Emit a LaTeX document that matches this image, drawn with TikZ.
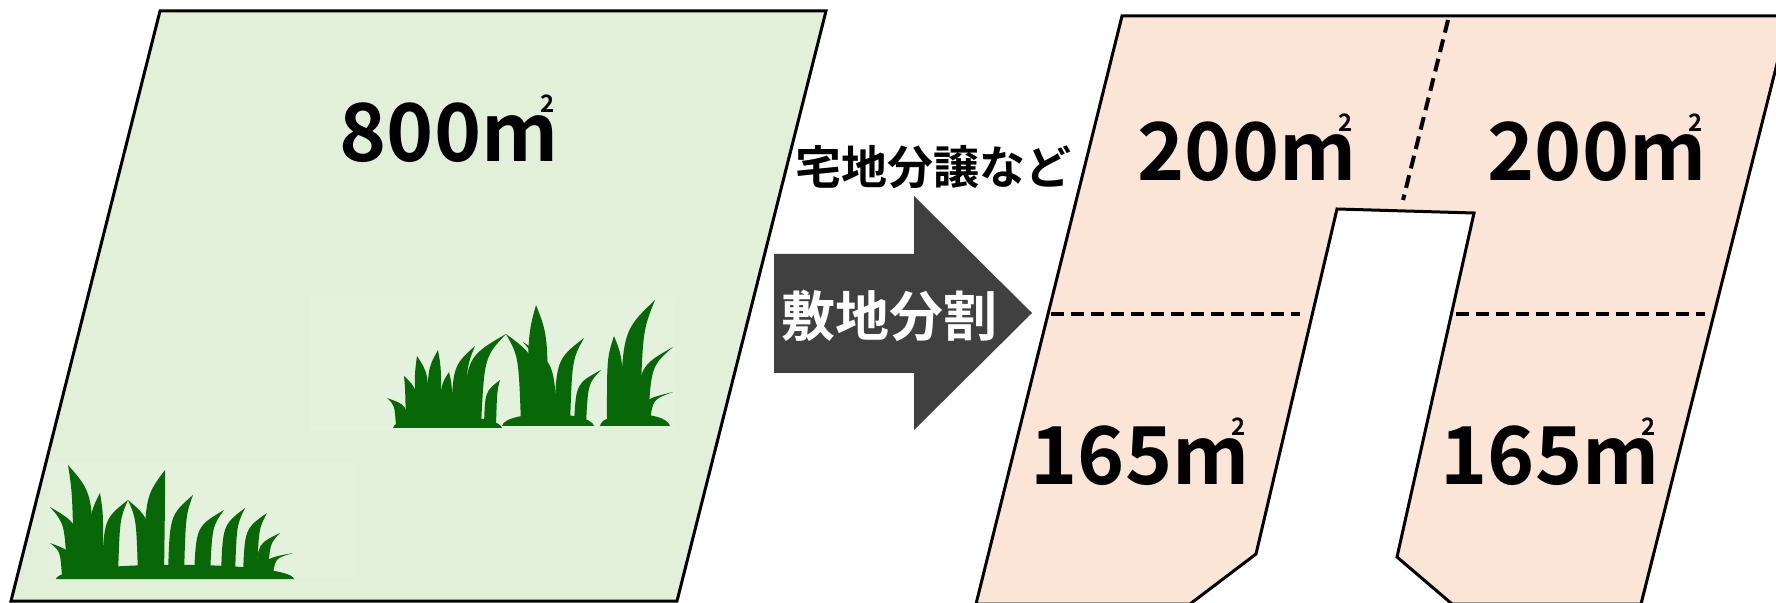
\documentclass[tikz,border=0pt]{standalone}
\usepackage{fontspec}
\setmainfont{Noto Sans CJK JP}[BoldFont={* Bold}]
\usepackage{graphicx}
\definecolor{fieldgreen}{HTML}{E2F0D9}
\definecolor{lotpeach}{HTML}{FBE5D6}
\definecolor{arrowgray}{HTML}{404040}
\definecolor{grassgreen}{RGB}{8,104,8}
\newcommand\sqm{m\llap{\raisebox{.62em}{\fontsize{12}{12}\selectfont 2\kern2pt}}}

\begin{document}
\begin{tikzpicture}[x=0.5pt,y=-0.5pt,area/.style={font=\bfseries\fontsize{40}{40}\selectfont,anchor=base,inner sep=0pt},plot/.style={draw,line width=1.5pt},cut/.style={line width=2pt,dash pattern=on 6.5pt off 3.5pt},grass/.style={fill=grassgreen}]
\useasboundingbox (0,0) rectangle (1776,603);
\draw[plot,fill=fieldgreen] (160,11) -- (826,11) -- (677,601) -- (11,601) -- cycle;
\fill[fieldgreen!93!white] (310,297) rectangle (675,430);
\fill[fieldgreen!93!white] (48,462) rectangle (356,578);
\fill[grass] (393,428) .. controls (395,412) and (498,412) .. (502,428) -- cycle
  (502,426) .. controls (505,410) and (590,410) .. (594,426) -- cycle
  (600,426) .. controls (602,410) and (666,410) .. (670,426) -- cycle
  (56,579) .. controls (60,560) and (290,560) .. (294,579) -- cycle;
\foreach \bx/\by/\tx/\ty/\w in {402/426/387/398/6,412/426/404/376/6,422/426/417/356/7,434/426/438/350/7,446/426/449/372/6,458/426/475/346/7,472/426/506/334/9,490/426/500/380/6,530/424/506/334/9,538/424/536/305/10,550/424/523/342/7,562/424/584/338/8,580/424/601/370/6,615/424/614/336/8,630/424/655/300/10,642/424/673/347/6,645/422/673/392/5,68/576/50/543/6,74/574/50/507/7,84/576/68/465/10,96/576/100/493/7,110/576/128/500/8,145/576/128/500/7,154/576/165/470/10,176/576/193/495/8,202/576/224/510/8,228/576/245/508/7,250/576/267/513/7,262/576/280/533/6,268/574/293/553/5}{
\pgfmathsetmacro\mx{\bx+0.1*(\tx-\bx)}
\pgfmathsetmacro\my{\by-0.75*(\by-\ty)}
\fill[grass] (\bx-\w,\by) .. controls (\mx-\w,\my) .. (\tx,\ty) .. controls (\mx+\w,\my) .. (\bx+\w,\by) -- cycle;
}
\node[area] (total) at (449,162) {800\sqm};
\fill[arrowgray] (774,254) -- (914,254) -- (914,196) -- (1032,313) -- (914,430) -- (914,373) -- (774,373) -- cycle;
\node[font=\bfseries\fontsize{27}{27}\selectfont,text=white] (split) at (889,316) {敷地分割};
\node[font=\bfseries\fontsize{23}{23}\selectfont] (sale) at (933,167) {宅地分譲など};
\draw[plot,fill=lotpeach] (1122,16) -- (1789,16) -- (1641,604) -- (1452,604) -- (1397,557) -- (1474,213) -- (1337,209) -- (1256,554) -- (1190,604) -- (976,604) -- cycle;
\draw[cut] (1448,20) -- (1403,200);
\draw[cut] (1051,314) -- (1300,314);
\draw[cut] (1456,314) -- (1705,314);
\node[area] (lotnw) at (1247,181) {200\sqm};
\node[area] (lotne) at (1597,181) {200\sqm};
\node[area] (lotsw) at (1140,485) {165\sqm};
\node[area] (lotse) at (1550,485) {165\sqm};
\end{tikzpicture}
\end{document}
